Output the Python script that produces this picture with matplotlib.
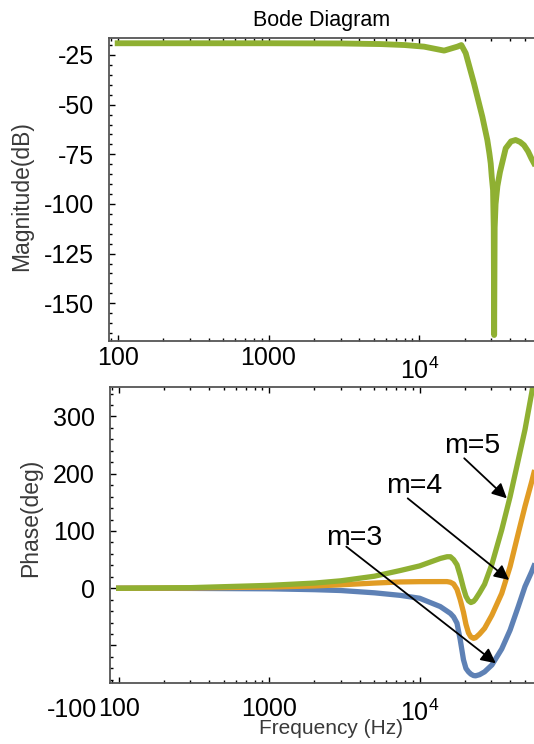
import matplotlib
matplotlib.use("Agg")
import matplotlib.pyplot as plt
import matplotlib.transforms as mtransforms
from matplotlib.ticker import FixedLocator, MultipleLocator, LogLocator, NullFormatter

plt.rcParams['font.family'] = ['Liberation Sans', 'DejaVu Sans']
plt.rcParams['mathtext.fontset'] = 'custom'
plt.rcParams['mathtext.rm'] = 'Liberation Sans'

# magnitude curve (m=5 only is visible)
mag_freq = [100, 300, 1000, 3000, 5500, 8000, 10740, 14580, 17850, 18970, 20280,
            23010, 26140, 28200, 29100, 29700, 30150, 30770, 31100, 31300, 31550,
            32000, 32900, 34200, 37330, 40500, 43450, 46500, 49330, 52500, 55200, 57500]
mag_db = [-19.1, -19.1, -19.1, -19.2, -19.5, -20.0, -20.8, -22.8, -20.8, -20.0, -24.1,
          -39.3, -56.1, -67.8, -74.5, -79.6, -86.0, -93.0, -112.0, -166.0, -112.0,
          -100.0, -91.0, -84.0, -72.0, -68.5, -67.8, -68.8, -70.4, -73.5, -77.0, -79.5]

# phase curves
phase_freq = [100, 300, 1000, 2000, 3000, 5000, 7450, 10000, 13700, 15200, 16000,
              16800, 17700, 18600, 19550, 20300, 21100, 21900, 22800, 23500, 25000,
              27000, 30200, 35100, 39900, 45200, 50100, 55500, 57500]
phase_m3 = [0, -0.3, -1, -2.5, -4, -8, -12.5, -17.5, -32, -40, -44,
            -50, -61, -90, -125, -140, -146, -150, -152.5, -153, -151,
            -146, -134, -106, -73, -32, 3, 29, 39]
phase_m4 = [0, 0.5, 2, 4, 6, 9, 11, 11.5, 11.6, 11.6, 10.5,
            7.5, -2, -20, -42, -63, -78, -85, -87.5, -86.5, -80,
            -70, -47, -9, 38, 96, 143, 186, 202]
phase_m5 = [0, 1, 5, 9, 13, 21, 31, 39, 52, 55, 55,
            50, 41, 22, 0, -14, -22, -25, -23, -19, -8,
            7, 42, 102, 160, 224, 277, 341, 366]

labels = ["m=3", "m=4", "m=5"]
label_pos = [(3648, 75.7), (9230, 166), (22170, 236)]
arrow_start = [(3255, 72.7), (8327, 157), (19770, 227)]
arrow_end = [(32060, -131), (39270, 14.5), (37960, 157)]

blue = '#5E81B5'
orange = '#E19C24'
green = '#8FB032'
spine_col = '#555555'

fig = plt.figure(figsize=(5.34, 7.44), dpi=100)
W, H = 534, 744
ax1 = fig.add_axes([109 / W, 1 - 341 / H, 1 - 109 / W, (341 - 38.3) / H])
ax2 = fig.add_axes([110 / W, 1 - 682.7 / H, 1 - 110 / W, (682.7 - 386.7) / H])

ax1.plot(mag_freq, mag_db, color=green, lw=4.2, solid_joinstyle='round')

ax2.plot(phase_freq, phase_m3, color=blue, lw=3.8)
ax2.plot(phase_freq, phase_m4, color=orange, lw=3.8)
ax2.plot(phase_freq, phase_m5, color=green, lw=3.8)

for ax in (ax1, ax2):
    ax.set_xscale('log')
    ax.set_xlim(87.6, 57500)
    ax.spines['right'].set_visible(False)
    for s in ('left', 'top', 'bottom'):
        ax.spines[s].set_color(spine_col)
        ax.spines[s].set_linewidth(1.3)
    ax.xaxis.set_major_locator(FixedLocator([100, 1000, 10000]))
    ax.xaxis.set_minor_locator(LogLocator(base=10, subs=range(2, 10)))
    ax.xaxis.set_minor_formatter(NullFormatter())
    ax.set_xticklabels(['100', '1000', ''])
    ax.tick_params(which='both', direction='in', top=True, right=False, color='black', width=1.0)
    ax.tick_params(which='major', length=4.5, labelsize=18)
    ax.tick_params(which='minor', length=2.2)

# magnitude panel
ax1.set_ylim(-169, -16.6)
ax1.set_yticks([-25, -50, -75, -100, -125, -150])
ax1.set_yticklabels(['-25', '-50', '-75', '-100', '-125', '-150'])
ax1.yaxis.set_minor_locator(MultipleLocator(5))
ax1.tick_params(axis='y', pad=11)
ax1.tick_params(axis='x', pad=3.5)
ax1.set_title("Bode Diagram", fontsize=15.5, pad=9)
ax1.set_ylabel("Magnitude(dB)", fontsize=16.5, color='#3a3a3a')
ax1.yaxis.set_label_coords(-0.179, 0.479)
t1 = mtransforms.blended_transform_factory(ax1.transData, ax1.transAxes)
ax1.text(10000, -0.056, r'$\mathregular{10^{4}}$', transform=t1, ha='center', va='top',
         fontsize=18)

# phase panel
ax2.set_ylim(-165, 352)
ax2.set_yticks([-100, 0, 100, 200, 300])
ax2.set_yticklabels(['', '0', '100', '200', '300'])
ax2.yaxis.set_minor_locator(MultipleLocator(20))
ax2.tick_params(axis='y', pad=11)
ax2.tick_params(axis='x', pad=10.5)
ax2.set_ylabel("Phase(deg)", fontsize=16.5, color='#3a3a3a')
ax2.yaxis.set_label_coords(-0.160, 0.556)
ax2.set_xlabel("Frequency (Hz)", fontsize=15, color='#3a3a3a')
ax2.xaxis.set_label_coords(0.521, -0.124)
t2 = mtransforms.blended_transform_factory(ax2.transData, ax2.transAxes)
ax2.text(10000, -0.058, r'$\mathregular{10^{4}}$', transform=t2, ha='center', va='top',
         fontsize=18)
ax2.text(-0.031, -0.052, '-100', transform=ax2.transAxes, ha='right', va='top',
         fontsize=18)

for lab, pos, a0, a1 in zip(labels, label_pos, arrow_start, arrow_end):
    ax2.annotate('', xy=a1, xytext=a0,
                 arrowprops=dict(arrowstyle='-|>', color='black', lw=1.3,
                                 mutation_scale=22, shrinkA=0, shrinkB=0))
    ax2.text(pos[0], pos[1], lab, ha='center', va='baseline', fontsize=20.5)

fig.savefig("out.png", dpi=100)
